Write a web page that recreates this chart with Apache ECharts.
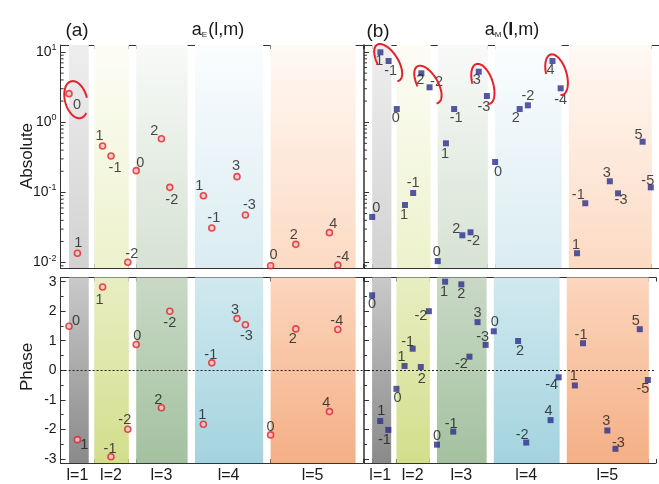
<!DOCTYPE html>
<html><head><meta charset="utf-8">
<script src="https://cdn.jsdelivr.net/npm/echarts@6/dist/echarts.min.js"></script>
<style>html,body{margin:0;padding:0;background:#fff}#c{width:659px;height:484px}</style>
</head><body><div id="c"></div>
<script>
// ---------- data ----------
const bandL = [1, 2, 3, 4, 5];
const bandLabels = ['l=1', 'l=2', 'l=3', 'l=4', 'l=5'];
const absTicks = [-2, -1, 0, 1];          // decades shown as 10^n
const phaseTicks = [-3, -2, -1, 0, 1, 2, 3];
// [l, m, value]
const aE_abs = [[1,0,2.55],[1,1,0.0136],[2,1,0.458],[2,-1,0.330],[2,-2,0.0101],[3,0,0.204],[3,2,0.582],[3,-2,0.118],
  [4,1,0.0897],[4,-1,0.0311],[4,3,0.1675],[4,-3,0.0477],[5,0,0.0090],[5,2,0.0182],[5,4,0.0267],[5,-4,0.0092]];
const aE_phase = [[1,0,1.49],[1,1,-2.35],[2,1,2.82],[2,-1,-2.93],[2,-2,-2.0],[3,0,0.87],[3,2,-1.27],[3,-2,2.0],
  [4,1,-1.83],[4,-1,0.25],[4,3,1.75],[4,-3,1.54],[5,0,-2.19],[5,2,1.40],[5,4,-1.40],[5,-4,1.38]];
const aM_abs = [[1,0,0.0447],[1,1,9.9],[1,-1,7.44],[2,0,1.54],[2,1,0.0662],[2,-1,0.098],[2,2,4.97],[2,-2,3.14],
  [3,0,0.0105],[3,1,0.50],[3,-1,1.54],[3,2,0.0245],[3,-2,0.027],[3,3,5.24],[3,-3,2.36],
  [4,0,0.271],[4,2,1.54],[4,-2,1.74],[4,4,7.44],[4,-4,3.04],
  [5,1,0.0136],[5,-1,0.070],[5,3,0.144],[5,-3,0.097],[5,5,0.527],[5,-5,0.118]];
const aM_phase = [[1,0,2.54],[1,1,-1.72],[1,-1,-2.02],[2,0,-0.63],[2,1,0.145],[2,-1,0.73],[2,2,0.11],[2,-2,2.0],
  [3,0,-2.52],[3,1,3.0],[3,-1,-2.08],[3,2,2.91],[3,-2,0.46],[3,3,1.63],[3,-3,0.86],
  [4,0,1.32],[4,2,0.99],[4,-2,-2.45],[4,4,-1.69],[4,-4,-0.24],
  [5,1,-0.515],[5,-1,0.915],[5,3,-2.04],[5,-3,-2.66],[5,5,1.39],[5,-5,-0.33]];
// circled coefficient groups: [l, m1, m2]
const circled_aE = [[1, 0, 0]];
const circled_aM = [[1, 1, -1], [2, 2, -2], [3, 3, -3], [4, 4, -4]];

// ---------- layout / style ----------
const lblOff = {
  aE_abs: [[8,11],[1,-10],[-3,-10],[4,12],[4,-8],[4,-8],[-7,-8],[2,13],[-4,-10],[2,-10],[-1,-11],[4,-10],[3,-11],[-2,-9],[4,-9],[5,-8]],
  aE_phase: [[7,-5],[7,5],[-3,13],[-1,-8],[-3,-9],[1,-9],[-3,-8],[0,12],[-1,-9],[-1,-8],[-2,-9],[1,11],[0,-8],[-3,10],[-3,-9],[-1,-9]],
  aM_abs: [[4,-9],[-1,9],[2,10],[-1,9],[-1,10],[0,-10],[-1,7],[7,-5],[-1,-9],[-1,11],[2,9],[-6,-6],[3,9],[-2,8],[-3,11],
    [3,10],[-4,9],[0,-9],[-2,9],[0,12],[-1,-8],[-7,-8],[-3,-8],[3,7],[-4,-7],[-3,-6]],
  aM_phase: [[0,9],[1,-10],[-4,10],[1,9],[-3,-9],[-5,-7],[1,12],[-8,5],[0,-9],[-1,10],[-2,-8],[0,10],[-8,7],[0,-9],[-3,-8],
    [1,-9],[2,10],[-4,-8],[-2,-9],[-7,8],[-1,-9],[-2,-8],[-1,-9],[3,-6],[-4,-8],[-5,9]]
};
const FONT = '"Liberation Sans", Arial, Helvetica, sans-serif';
const AX = '#333';
const bandColors = [ // [absTop, absBottom, phaseTop, phaseBottom]
  ['#eeeeee', '#d2d2d2', '#c9c9c9', '#8a8a8a'],
  ['#fdfdf6', '#edf2cc', '#e8eec2', '#d3de8c'],
  ['#f8faf8', '#d6e2d3', '#c9d9c6', '#a3c1a0'],
  ['#fbfdfe', '#daecf2', '#d1e9ef', '#a3d3df'],
  ['#fff9f4', '#fcdac3', '#fcd6bd', '#f4af86']
];
const LOGMIN = Math.pow(10, -2.077), LOGMAX = Math.pow(10, 1.0997);

function idx(l, m) { return l * l - 1 + (m === 0 ? 0 : (m > 0 ? 2 * m - 1 : -2 * m)); }
function findVal(arr, l, m) { const d = arr.find(e => e[0] === l && e[1] === m); return d[2]; }

const grids = [
  {left: 60.6, top: 45, width: 302.4, height: 223},
  {left: 60.6, top: 277.5, width: 302.4, height: 189.5},
  {left: 364, top: 45, width: 302.4, height: 223},
  {left: 364, top: 277.5, width: 302.4, height: 189.5}
];

const bandLabelAt = {};
bandL.forEach((l, i) => { bandLabelAt[l * l - 1 + l] = bandLabels[i]; });

function xAx(gi, pos, withLabels, lw) {
  return {
    type: 'value', gridIndex: gi, position: pos, min: -1, max: 35, interval: 1,
    axisLine: {show: true, onZero: false, lineStyle: {color: AX, width: lw || 1}},
    axisTick: {show: true, inside: true, length: 4, lineStyle: {color: AX}},
    splitLine: {show: false},
    axisLabel: withLabels ? {show: true, margin: 5, fontSize: 16, color: '#1a1a1a', fontFamily: FONT,
      formatter: v => bandLabelAt[Math.round(v)] && Math.abs(v - Math.round(v)) < 1e-6 ? bandLabelAt[Math.round(v)] : ''} : {show: false}
  };
}
const xAxes = [xAx(0,'bottom'), xAx(0,'top'), xAx(1,'bottom',true), xAx(1,'top'),
               xAx(2,'bottom'), xAx(2,'top'), xAx(3,'bottom',true), xAx(3,'top')];

function logY(gi, labels, lw) {
  return {
    type: 'log', logBase: 10, gridIndex: gi, min: LOGMIN, max: LOGMAX,
    axisLine: {show: true, onZero: false, lineStyle: {color: AX, width: lw || 1}},
    axisTick: {show: true, inside: true, length: 5, lineStyle: {color: AX}},
    splitLine: {show: false},
    axisLabel: labels ? {
      show: true, margin: 4, color: '#1a1a1a', fontFamily: FONT,
      formatter: v => {
        const n = Math.log10(v); const r = Math.round(n);
        if (Math.abs(n - r) > 1e-4 || absTicks.indexOf(r) < 0) return '';
        return '{b|10}{s|' + r + '}';
      },
      rich: {b: {fontSize: 14, lineHeight: 18, fontFamily: FONT, color: '#1a1a1a'},
             s: {fontSize: 9, lineHeight: 10, verticalAlign: 'top', fontFamily: FONT, color: '#1a1a1a'}}
    } : {show: false}
  };
}
function phY(gi, labels, lw) {
  return {
    type: 'value', gridIndex: gi, min: -Math.PI, max: Math.PI, splitNumber: 6,
    axisLine: {show: true, onZero: false, lineStyle: {color: AX, width: lw || 1}},
    axisTick: {show: true, inside: true, length: 5, lineStyle: {color: AX}},
    minorTick: {show: true, splitNumber: 2, length: 3, lineStyle: {color: AX}},
    splitLine: {show: false},
    axisLabel: labels ? {show: true, margin: 4, fontSize: 14, color: '#1a1a1a', fontFamily: FONT,
      formatter: v => { const r = Math.round(v); return (Math.abs(v - r) < 1e-6 && phaseTicks.indexOf(r) >= 0) ? String(r) : ''; }}
      : {show: false}
  };
}
const yAxes = [logY(0, true), phY(1, true), logY(2, false, 1.5), phY(3, false, 1.5)];

function bandAreas(isPhase) {
  return bandL.map((l, i) => {
    const c = bandColors[i];
    const s = l * l - 1, e = l * l - 1 + 2 * l + (l === 1 ? 0.35 : 0.12);
    return [{xAxis: s, itemStyle: {color: {type: 'linear', x: 0, y: 0, x2: 0, y2: 1,
      colorStops: [{offset: 0, color: isPhase ? c[2] : c[0]}, {offset: 1, color: isPhase ? c[3] : c[1]}]}}},
      {xAxis: e}];
  });
}

function scatterSeries(arr, offs, xi, yi, isE, isPhase) {
  const s = {
    type: 'scatter', xAxisIndex: xi, yAxisIndex: yi, z: 4,
    symbol: isE ? 'circle' : 'rect', symbolSize: 6,
    itemStyle: isE ? {color: '#f0c4c4', borderColor: '#e3232b', borderWidth: 1.6} : {color: '#2b2e8e'},
    data: arr.map((d, i) => ({
      value: [idx(d[0], d[1]), d[2]],
      label: {show: true, position: 'inside', offset: offs[i], formatter: String(d[1]),
        color: '#1a1a1a', fontSize: 14.5, fontFamily: FONT}
    })),
    markArea: {silent: true, z: 1, data: bandAreas(isPhase)}
  };
  if (isPhase) {
    s.markLine = {silent: true, symbol: ['none', 'none'], label: {show: false},
      lineStyle: {color: '#222', type: [2, 2], width: 1}, data: [{yAxis: 0}]};
  }
  return s;
}

function logMinorSeries(xi, yi) {
  const data = [];
  for (let n = -3; n <= 1; n++) for (let k = 2; k <= 9; k++) {
    const v = k * Math.pow(10, n);
    if (v > LOGMIN && v < LOGMAX) data.push([-1, v]);
  }
  return {type: 'custom', xAxisIndex: xi, yAxisIndex: yi, silent: true, clip: false, z: 6, data,
    renderItem: (params, api) => {
      const p = api.coord([api.value(0), api.value(1)]);
      return {type: 'line', shape: {x1: p[0], y1: p[1], x2: p[0] + 3, y2: p[1]}, style: {stroke: AX, lineWidth: 1}};
    }};
}

function ellipsePts(cx, cy, ang, a, b, t0, t1) {
  const pts = [], u = [Math.cos(ang), Math.sin(ang)], v = [-Math.sin(ang), Math.cos(ang)];
  for (let t = t0; t <= t1 + 1e-9; t += 4) {
    const r = t * Math.PI / 180, ca = Math.cos(r) * a, sb = Math.sin(r) * b;
    pts.push([cx + ca * u[0] + sb * v[0], cy + ca * u[1] + sb * v[1]]);
  }
  return pts;
}

function ellipseSeries(groups, arr, xi, yi, single) {
  return {type: 'custom', xAxisIndex: xi, yAxisIndex: yi, silent: true, clip: false, z: 5, data: groups,
    renderItem: (params, api) => {
      const l = api.value(0), m1 = api.value(1), m2 = api.value(2);
      const p1 = api.coord([idx(l, m1), findVal(arr, l, m1)]);
      const p2 = api.coord([idx(l, m2), findVal(arr, l, m2)]);
      let pts;
      if (single) {
        pts = ellipsePts(p1[0] + 7, p1[1] + 6, 75 * Math.PI / 180, 19, 11, -35, 275);
      } else {
        let ang = Math.atan2(p2[1] - p1[1], p2[0] - p1[0]);
        ang = Math.max(ang, 58 * Math.PI / 180);
        const u = [Math.cos(ang), Math.sin(ang)];
        const a = 21, b = 10;
        const half = Math.hypot(p2[0] - p1[0], p2[1] - p1[1]) / 2;
        const sh = Math.max(0, (a - 8) - half);
        const cx = (p1[0] + p2[0]) / 2 + u[0] * sh, cy = (p1[1] + p2[1]) / 2 + u[1] * sh;
        pts = ellipsePts(cx, cy, ang, a, b, 100, 375);
      }
      return {type: 'polyline', shape: {points: pts}, style: {stroke: '#e3232b', lineWidth: 2, fill: null}};
    }};
}

const series = [
  scatterSeries(aE_abs, lblOff.aE_abs, 0, 0, true, false),
  scatterSeries(aE_phase, lblOff.aE_phase, 2, 1, true, true),
  scatterSeries(aM_abs, lblOff.aM_abs, 4, 2, false, false),
  scatterSeries(aM_phase, lblOff.aM_phase, 6, 3, false, true),
  logMinorSeries(0, 0), logMinorSeries(4, 2),
  ellipseSeries(circled_aE, aE_abs, 0, 0, true),
  ellipseSeries(circled_aM, aM_abs, 4, 2, false)
];

const txt = (x, y, text, size, extra) => ({
  type: 'text', x, y, silent: true,
  style: Object.assign({text, fill: '#1a1a1a', font: size + 'px ' + FONT, fontSize: size, fontFamily: FONT,
    align: 'center', verticalAlign: 'middle', textAlign: 'center', textVerticalAlign: 'middle'}, extra || {})
});
const titleRich = {
  a: {fontSize: 18, lineHeight: 22, fontFamily: FONT, color: '#1a1a1a'},
  ab: {fontSize: 18, lineHeight: 22, fontFamily: FONT, color: '#1a1a1a', fontWeight: 'bold'},
  s: {fontSize: 8, lineHeight: 9, verticalAlign: 'bottom', fontFamily: FONT, color: '#1a1a1a', padding: [0, 1, 2, 0]}
};
const graphic = [
  txt(77, 31, '(a)', 19),
  txt(378, 32, '(b)', 19),
  txt(218, 30, '{a|a}{s|E}{a|(l,m)}', 18, {rich: titleRich}),
  txt(512, 30, '{a|a}{s|M}{a|(}{ab|l}{a|,m)}', 18, {rich: titleRich}),
  Object.assign(txt(27, 156, 'Absolute', 17), {rotation: Math.PI / 2}),
  Object.assign(txt(27, 367, 'Phase', 17), {rotation: Math.PI / 2})
];

const chart = echarts.init(document.getElementById('c'), null, {width: 659, height: 484});
chart.setOption({
  animation: false,
  backgroundColor: '#fff',
  grid: grids,
  xAxis: xAxes,
  yAxis: yAxes,
  series,
  graphic
});
</script></body></html>
